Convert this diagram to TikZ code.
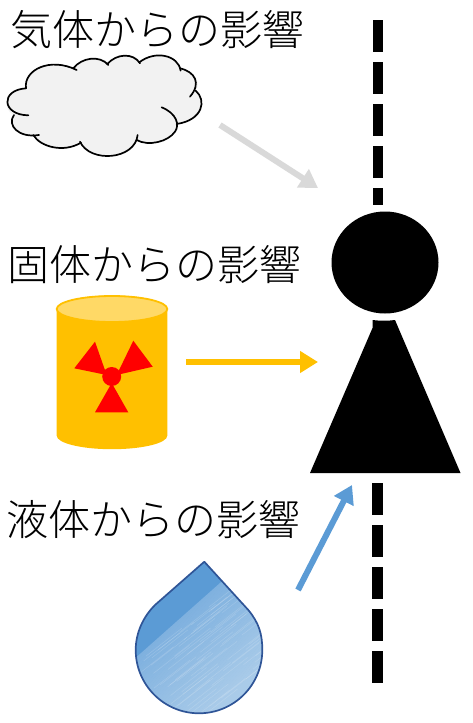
\documentclass[tikz,border=0pt]{standalone}
\usepackage{fontspec}
\usetikzlibrary{arrows.meta}
\newfontfamily\cjk{Noto Sans CJK JP Light}
\definecolor{cloudfill}{HTML}{F2F2F2}
\definecolor{grayarrow}{HTML}{D9D9D9}
\definecolor{amber}{HTML}{FFC000}
\definecolor{amberlight}{HTML}{FFD966}
\definecolor{sky}{HTML}{5B9BD5}
\definecolor{skylow}{HTML}{7FB1DF}
\definecolor{skyhigh}{HTML}{A9CBE9}
\definecolor{dropline}{HTML}{2F5597}
\begin{document}
\begin{tikzpicture}[x=1pt,y=-1pt,
  lbl/.style={font=\cjk\fontsize{42}{43}\selectfont,anchor=west,inner sep=0pt,text=black},
  arr/.style={line width=6pt,-{Triangle[length=18pt,width=21pt]}},
  dashbar/.style={fill=black,draw=none},
  lobe/.style={draw=black,line width=1.7pt,line cap=round}]
\useasboundingbox (0,0) rectangle (472,723);
% dashed axis
\foreach \a/\b in {20/52,62/94,104/136,146/178,188/205}
  \fill[dashbar] (372.5,\a) rectangle (383,\b);
\foreach \a/\b in {483/515,525/557,567/599,609/641,651/683}
  \fill[dashbar] (372,\a) rectangle (383,\b);
% figure
\fill[black] (372.5,320) .. controls (380,321) and (388,321) .. (395,320) -- (460.5,473) -- (310,473) -- (372.5,328) -- cycle;
\fill[black] (385,262.5) ellipse [x radius=53.5, y radius=51];
% labels
\node[lbl] (gas) at (10,30) {気体からの影響};
\node[lbl] (solid) at (7,265) {固体からの影響};
\node[lbl] (liquid) at (6,520) {液体からの影響};
% cloud
\begin{scope}[x=0.3333pt,y=-0.3333pt]
\fill[cloudfill] (78,265) .. controls (70,210) and (150,170) .. (225,205)
  .. controls (245,172) and (300,165) .. (328,188)
  .. controls (350,160) and (400,158) .. (422,185)
  .. controls (465,150) and (535,165) .. (542,207)
  .. controls (585,215) and (605,250) .. (587,272)
  .. controls (620,300) and (610,360) .. (530,372)
  .. controls (530,410) and (450,445) .. (410,420)
  .. controls (395,475) and (270,480) .. (240,427)
  .. controls (190,460) and (120,440) .. (103,408)
  .. controls (50,410) and (20,375) .. (42,345)
  .. controls (5,330) and (15,270) .. (78,265) -- cycle;
\draw[lobe] (78,265) .. controls (70,210) and (150,170) .. (230,210);
\draw[lobe] (220,205) .. controls (245,172) and (300,165) .. (325,195);
\draw[lobe] (322,192) .. controls (350,160) and (400,158) .. (420,190);
\draw[lobe] (418,187) .. controls (465,150) and (535,165) .. (542,212);
\draw[lobe] (540,205) .. controls (585,215) and (605,250) .. (570,290);
\draw[lobe] (587,272) .. controls (620,300) and (610,360) .. (530,372);
\draw[lobe] (485,322) .. controls (530,340) and (540,375) .. (525,395) .. controls (505,425) and (445,440) .. (410,420);
\draw[lobe] (413,405) .. controls (405,480) and (270,490) .. (240,425);
\draw[lobe] (243,428) .. controls (190,460) and (120,440) .. (100,405);
\draw[lobe] (117,405) .. controls (55,415) and (20,375) .. (42,345);
\draw[lobe] (85,346) .. controls (5,345) and (0,270) .. (78,265);
\end{scope}
% barrel
\fill[amber] (56.7,309) -- (56.7,435.7) arc [start angle=180,end angle=0,x radius=55.3,y radius=13.5] -- (167.3,309) arc [start angle=0,end angle=-180,x radius=55.3,y radius=13.5] -- cycle;
\filldraw[fill=amberlight,draw=amber,line width=1.8pt] (112,309) ellipse [x radius=55.3, y radius=13];
\fill[red] (111.7,376.5) circle (9.5);
\fill[red] (111.7,383) -- (95,412.3) -- (128.3,412.3) -- cycle;
\fill[red] (95,341.7) -- (74.3,368.3) -- (106.7,375) -- cycle;
\fill[red] (133.3,340.7) -- (152.7,366.7) -- (116.7,375) -- cycle;
% drop
\def\droppath{(204.3,561.7) -- (155,605) .. controls (143,617) and (135.7,633) .. (135.7,650)
  arc [start angle=180,end angle=0,radius=63.3]
  .. controls (262.3,634) and (259,623) .. (248.3,610) -- cycle}
\begin{scope}
\clip \droppath;
\fill[sky] (120,550) rectangle (280,720);
\foreach \t in {0,...,90}{
  \pgfmathsetmacro{\xa}{220+\t*.665}
  \pgfmathsetmacro{\ya}{583+\t*.746}
  \pgfmathsetmacro{\xb}{220+(\t+1.5)*.665}
  \pgfmathsetmacro{\yb}{583+(\t+1.5)*.746}
  \pgfmathtruncatemacro{\p}{100-\t*100/90}
  \fill[skylow!\p!skyhigh] (\xa-150,\ya+133) -- (\xa+150,\ya-133) -- (\xb+150,\yb-133) -- (\xb-150,\yb+133) -- cycle;
}
\fill[skyhigh] (213,710) -- (263,665) -- (290,700) -- (240,740) -- cycle;
\pgfmathsetseed{7}
\foreach \i in {1,...,70}{
  \pgfmathsetmacro{\t}{rnd*90}
  \pgfmathsetmacro{\s}{rnd*110-55}
  \pgfmathsetmacro{\cx}{190+\t*.665+\s*.77}
  \pgfmathsetmacro{\cy}{620+\t*.746-\s*.64}
  \draw[white,opacity=.15,line width=.6pt] (\cx-18,\cy+14) -- (\cx+18,\cy-14);
}
\end{scope}
\draw[dropline,line width=1.7pt,line join=round] \droppath;
% arrows
\coordinate (a1) at (220,125); \coordinate (b1) at (318,188);
\coordinate (a2) at (186,362); \coordinate (b2) at (318,362);
\coordinate (a3) at (298,590); \coordinate (b3) at (352,485);
\draw[arr,grayarrow] (a1) -- (b1);
\draw[arr,amber] (a2) -- (b2);
\draw[arr,sky] (a3) -- (b3);
\end{tikzpicture}
\end{document}
